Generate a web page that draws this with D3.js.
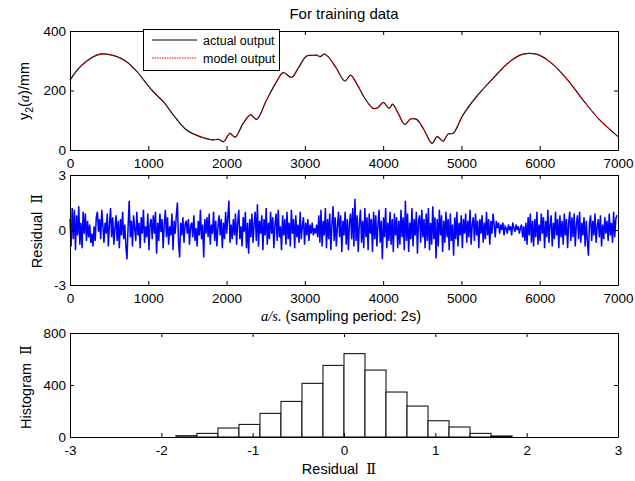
<!DOCTYPE html>
<html>
<head>
<meta charset="utf-8">
<script src="https://cdn.jsdelivr.net/npm/d3@7"></script>
<style>
body { margin:0; background:#fff; }
text { font-family: "Liberation Sans", Arial, sans-serif; }
</style>
</head>
<body>
<svg id="drawing_region"></svg>
<script>
// top panel: water level samples (time, value)
const sampleTime = [0,150,383,600,722,850,1050,1200,1320,1490,1660,1830,1900,1960,2044,2108,2213,2307,2383,2511,2639,2724,2830,2915,3022,3100,3150,3193,3250,3300,3405,3511,3583,3660,3766,3872,3936,4000,4077,4120,4192,4277,4349,4426,4511,4626,4689,4766,4830,4894,5021,5191,5404,5617,5787,5957,6127,6340,6553,6766,7000];
const actualOutput = [235,285,322,314,297,265,200,160,118,67,45,34,36,28,56,43,90,118,103,168,230,260,244,275,316,318,319,314,322,313,274,232,252,224,174,140,143,160,140,154,123,86,104,103,73,22,45,30,54,56,118,179,241,297,322,322,297,241,168,101,45];
const modelOutput = actualOutput;

// middle panel: residual, one value every 14 samples
const residualStep = 14;
const residual = [
0.6,-0.9,1.2,-0.5,1.1,-1.1,0.8,-0.3,1.3,-0.8,0.4,-1.0,1.0,-0.2,0.9,-0.6,0.5,-0.4,0.3,-0.7,-0.2,-0.9,0.2,-0.6,0.7,
1.0,-0.1,0.6,-0.5,1.1,0.2,-0.7,0.4,-0.2,0.9,-0.9,0.3,1.2,-0.4,0.7,-0.8,0.1,0.8,-0.6,0.5,-1.0,0.6,-0.3,1.0,-0.5,
0.3,-0.9,-1.6,0.2,1.6,-0.4,0.5,-0.9,0.8,0.1,-0.6,1.0,-0.3,0.4,-1.0,0.7,-0.2,1.1,-0.7,0.2,-0.4,0.9,-1.1,0.3,0.6,
-0.5,0.8,-0.2,1.0,-1.3,0.4,-0.6,0.9,-0.1,0.6,-1.0,0.3,1.1,-0.4,0.7,-0.8,0.2,-0.3,0.9,-1.1,0.5,-0.2,0.8,1.5,-0.6,
-1.5,0.4,-0.3,0.7,-0.7,0.3,0.5,-0.2,0.6,-0.8,0.2,0.4,-0.4,0.8,-0.6,0.1,-0.9,0.5,-0.3,1.1,-0.5,0.3,-1.5,0.6,-0.2,
0.7,-0.4,0.9,-0.8,0.3,-0.2,1.0,-0.6,0.5,-0.9,0.2,0.8,-0.3,0.6,-1.0,0.4,-0.5,1.0,-0.2,0.7,1.6,-0.7,0.3,-0.5,0.6,
-0.3,0.9,-0.8,0.4,1.1,-0.5,0.2,-0.9,0.7,-0.1,1.0,-1.0,0.4,-1.3,0.6,-0.4,0.9,-0.7,0.3,1.0,-0.6,1.4,-0.9,0.5,-0.2,
0.8,-1.1,0.6,-0.3,1.2,-0.8,0.4,-0.5,1.0,-0.2,0.7,-1.0,0.3,0.9,-0.6,1.1,-0.4,0.2,-1.1,0.8,-0.3,0.6,-0.8,1.0,-0.5,
0.4,-0.9,1.1,-0.2,0.6,-1.0,0.8,-0.4,0.3,-0.7,1.0,-0.5,0.2,0.7,-0.8,0.4,-0.3,0.6,-0.6,0.3,-0.2,0.4,-0.3,0.1,-0.2,
0.3,-0.4,0.8,-0.7,1.1,-0.9,0.5,-0.3,1.2,-1.0,0.6,-0.5,0.9,-1.1,0.3,1.3,-0.6,0.7,-0.9,0.2,1.0,-0.4,0.8,-1.2,0.5,
-0.3,1.0,-0.8,0.6,-1.1,0.4,0.9,-0.5,1.2,-0.9,1.7,-0.6,0.8,-1.2,0.3,1.1,-0.7,0.5,-1.0,1.2,-0.4,0.7,-1.1,0.9,-0.2,
0.6,-1.2,1.0,-0.5,0.8,-0.9,0.3,1.1,-0.7,0.5,-1.6,0.7,-0.4,1.2,-1.0,0.4,-0.6,1.0,-0.8,0.6,-1.2,0.9,-0.3,0.7,-1.0,
0.5,-0.8,1.1,-0.4,0.7,-1.1,1.6,-0.6,0.9,-1.2,0.4,-0.5,1.2,-0.9,0.6,-0.3,1.0,-1.3,0.5,0.8,-0.7,1.1,-0.4,0.6,-1.0,
0.9,-0.6,1.2,-1.1,0.4,-0.8,1.3,-0.5,0.7,-1.55,0.6,-0.9,1.1,-0.3,0.8,-1.2,0.5,-0.7,1.0,-0.4,0.6,-1.1,0.9,-0.6,0.3,
-1.4,0.7,-0.5,1.0,-0.9,0.4,-0.3,0.8,-1.0,0.6,-0.2,0.9,-0.7,0.5,-0.4,1.1,-0.8,0.3,0.7,-0.6,0.9,-0.3,0.5,-1.0,0.6,
-0.2,0.8,-0.7,0.4,-0.5,1.0,-0.3,0.6,-0.8,0.5,-0.2,0.9,0.3,-0.4,0.5,0.1,0.4,-0.2,0.3,0.0,0.4,-0.3,0.2,0.1,-0.2,
0.3,0.0,0.2,-0.3,0.4,0.1,-0.1,0.3,0.0,0.2,-0.2,0.1,0.3,-0.4,0.2,-0.6,0.4,-0.8,0.7,-0.3,0.9,-0.7,0.5,-0.9,0.6,
-0.4,1.0,-0.8,0.3,-0.6,0.9,-0.2,0.7,-1.0,0.5,-0.4,1.1,-0.7,0.3,0.8,-0.9,0.4,-0.5,1.0,-0.3,0.6,-1.0,0.8,-0.4,0.5,
-0.8,0.9,-0.3,0.6,-1.0,0.4,1.0,-0.6,0.7,-0.4,0.9,-0.9,0.3,0.8,-0.5,1.0,-0.7,0.4,-0.3,0.7,-0.9,0.5,-0.6,-1.4,0.4,
0.8,-0.6,0.5,-0.3,0.9,-0.7,0.2,0.6,-0.4,0.8,-0.9,0.3,-0.5,0.7,-0.2,0.5,-0.6,0.9,-0.3,0.4,-0.7,1.0,-0.4,0.6,0.8
];

// bottom panel: histogram of residual
const binLeft = [-1.84,-1.61,-1.38,-1.15,-0.92,-0.69,-0.46,-0.23,0.0,0.23,0.46,0.69,0.92,1.15,1.38,1.61];
const binWidth = 0.23;
const binCount = [10,28,69,97,182,274,413,551,641,515,346,238,125,77,28,8];

const timeTicks = [0,1000,2000,3000,4000,5000,6000,7000];
const levelTicks = [0,200,400];
const residualTicks = [-3,0,3];
const histXTicks = [-3,-2,-1,0,1,2,3];
const histYTicks = [0,400,800];

const W = 635, H = 481;
const left = 70, right = 618;
const labelSize = 14.5;
const numeral = '"DejaVu Serif", "Liberation Serif", serif';
const svg = d3.select('#drawing_region')
  .attr('width', W)
  .attr('height', H);

// MATLAB style box with inward ticks on all four sides
function drawBox(xscale, yscale, xticks, yticks, top, bottom) {
  const g = svg.append('g');
  const inner = -4;
  const fmt = d => String(d);
  g.append('g')
    .attr('transform', `translate(0,${bottom})`)
    .call(d3.axisBottom(xscale).tickValues(xticks).tickFormat(fmt).tickSizeInner(inner).tickSizeOuter(0).tickPadding(8));
  g.append('g')
    .attr('transform', `translate(0,${top})`)
    .call(d3.axisTop(xscale).tickValues(xticks).tickSizeInner(inner).tickSizeOuter(0).tickFormat(''));
  g.append('g')
    .attr('transform', `translate(${left},0)`)
    .call(d3.axisLeft(yscale).tickValues(yticks).tickFormat(fmt).tickSizeInner(inner).tickSizeOuter(0).tickPadding(4));
  g.append('g')
    .attr('transform', `translate(${right},0)`)
    .call(d3.axisRight(yscale).tickValues(yticks).tickSizeInner(inner).tickSizeOuter(0).tickFormat(''));
  g.selectAll('text')
    .attr('font-family', '"Liberation Sans", Arial, sans-serif')
    .attr('font-size', 13.5)
    .attr('fill', '#000');
  g.selectAll('path, line').attr('stroke', '#000');
  return g;
}

// ---------- panel 1 ----------
const t1 = 31, b1 = 150;
const x1 = d3.scaleLinear().domain([0, 7000]).range([left, right]);
const y1 = d3.scaleLinear().domain([0, 400]).range([b1, t1]);

const levelLine = d3.line()
  .x((d, i) => x1(sampleTime[i]))
  .y(d => y1(d))
  .curve(d3.curveCatmullRom.alpha(0.5));

svg.append('path')
  .datum(actualOutput)
  .attr('d', levelLine)
  .attr('fill', 'none')
  .attr('stroke', '#000')
  .attr('stroke-width', 1.2);
svg.append('path')
  .datum(modelOutput)
  .attr('d', levelLine)
  .attr('fill', 'none')
  .attr('stroke', '#ff0000')
  .attr('stroke-width', 1)
  .attr('stroke-dasharray', '1.5,1');

drawBox(x1, y1, timeTicks, levelTicks, t1, b1);

svg.append('text')
  .attr('x', 344).attr('y', 19)
  .attr('text-anchor', 'middle')
  .attr('font-size', 15)
  .text('For training data');

const ylab1 = svg.append('text')
  .attr('transform', 'translate(29,91) rotate(-90)')
  .attr('text-anchor', 'middle')
  .attr('font-size', labelSize);
ylab1.append('tspan').text('y');
ylab1.append('tspan').attr('font-size', 10.5).attr('dy', 4).text('2');
ylab1.append('tspan').attr('dy', -4).text('(');
ylab1.append('tspan').attr('font-family', '"Liberation Serif", serif').attr('font-style', 'italic').text('a');
ylab1.append('tspan').text(')/mm');

// legend
const lg = svg.append('g');
lg.append('rect')
  .attr('x', 143.5).attr('y', 29.5)
  .attr('width', 136).attr('height', 41)
  .attr('fill', '#fff').attr('stroke', '#000');
lg.append('line')
  .attr('x1', 152).attr('x2', 197).attr('y1', 40).attr('y2', 40)
  .attr('stroke', '#000');
lg.append('line')
  .attr('x1', 152).attr('x2', 197).attr('y1', 58).attr('y2', 58)
  .attr('stroke', '#ff0000').attr('stroke-dasharray', '1.5,1');
lg.append('text').attr('x', 203).attr('y', 45).attr('font-size', 12.5).text('actual output');
lg.append('text').attr('x', 203).attr('y', 63).attr('font-size', 12.5).text('model output');

// ---------- panel 2 ----------
const t2 = 175, b2 = 285;
const y2 = d3.scaleLinear().domain([-3, 3]).range([b2, t2]);

svg.append('path')
  .datum(residual)
  .attr('d', d3.line().x((d, i) => x1(i * residualStep)).y(d => y2(d)))
  .attr('fill', 'none')
  .attr('stroke', '#0000ff')
  .attr('stroke-width', 1.5);

drawBox(x1, y2, timeTicks, residualTicks, t2, b2);

const ylab2 = svg.append('text')
  .attr('transform', 'translate(42,231) rotate(-90)')
  .attr('text-anchor', 'middle')
  .attr('font-size', labelSize);
ylab2.append('tspan').text('Residual');
ylab2.append('tspan').attr('dx', 8).attr('font-family', numeral).text('Ⅱ');

const xlab2 = svg.append('text')
  .attr('x', 341).attr('y', 321)
  .attr('text-anchor', 'middle')
  .attr('font-size', labelSize);
xlab2.append('tspan').attr('font-family', '"Liberation Serif", serif').attr('font-style', 'italic').text('a/s.');
xlab2.append('tspan').text(' (sampling period: 2s)');

// ---------- panel 3 ----------
const t3 = 333, b3 = 437;
const x3 = d3.scaleLinear().domain([-3, 3]).range([left, right]);
const y3 = d3.scaleLinear().domain([0, 800]).range([b3, t3]);

svg.append('g')
  .selectAll('rect')
  .data(binCount)
  .join('rect')
  .attr('x', (d, i) => x3(binLeft[i]))
  .attr('width', (d, i) => x3(binLeft[i] + binWidth) - x3(binLeft[i]))
  .attr('y', d => y3(d))
  .attr('height', d => y3(0) - y3(d))
  .attr('fill', '#fff')
  .attr('stroke', '#000')
  .attr('stroke-width', 1);

drawBox(x3, y3, histXTicks, histYTicks, t3, b3);

const ylab3 = svg.append('text')
  .attr('transform', 'translate(31,387) rotate(-90)')
  .attr('text-anchor', 'middle')
  .attr('font-size', labelSize);
ylab3.append('tspan').text('Histogram');
ylab3.append('tspan').attr('dx', 8).attr('font-family', numeral).text('Ⅱ');

const xlab3 = svg.append('text')
  .attr('x', 339).attr('y', 474)
  .attr('text-anchor', 'middle')
  .attr('font-size', labelSize);
xlab3.append('tspan').text('Residual');
xlab3.append('tspan').attr('dx', 8).attr('font-family', numeral).text('Ⅱ');
</script>
</body>
</html>
